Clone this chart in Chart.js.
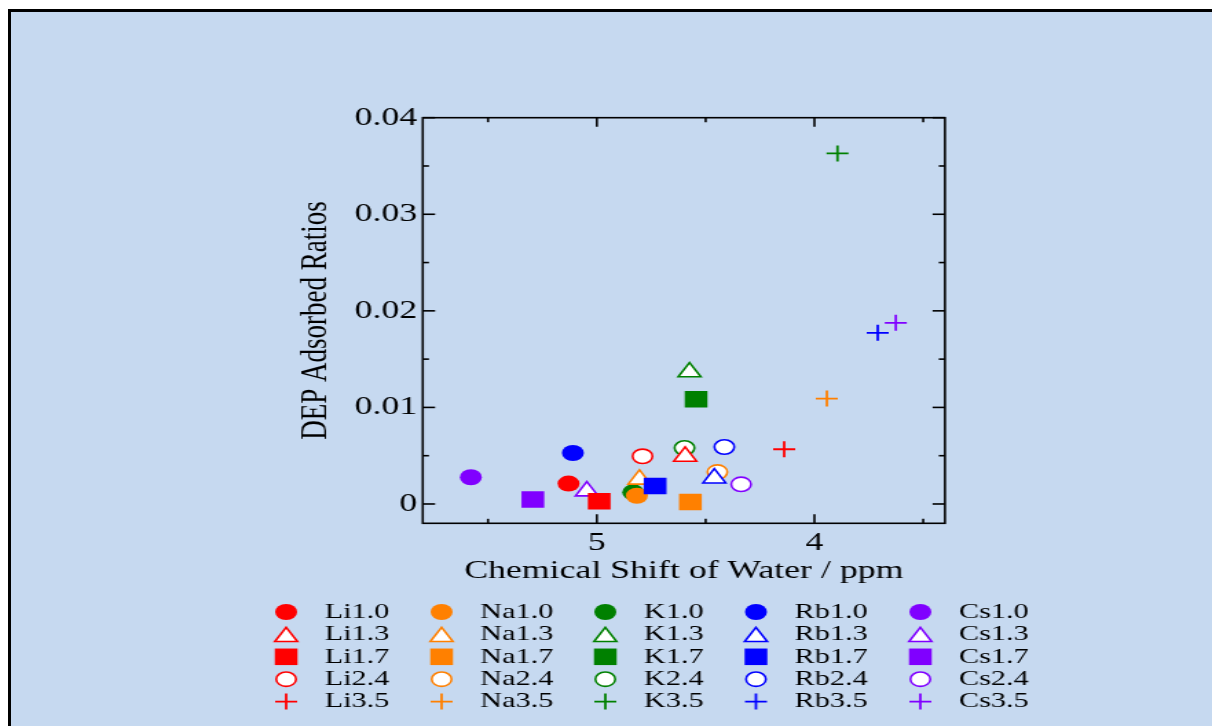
<!DOCTYPE html>
<html lang="en">
  <head>
    <meta charset="UTF-8" />
    <title>DEP Adsorbed Ratios</title>
    <script src="https://cdn.jsdelivr.net/npm/chart.js"></script>
    <style>
      body {
        margin: 0;
        background: #fff;
        overflow: hidden;
      }

      .frame {
        position: absolute;
        left: 8px;
        top: 9px;
        width: 1212px;
        height: 726px;
        background: #c6d9f0;
        border-left: 3px solid #000;
        border-top: 3px solid #000;
      }

      /* the original picture is stretched sideways, so the canvas is too */
      canvas {
        position: absolute;
        left: 0;
        top: 0;
        width: 1212px !important;
        height: 726px !important;
      }
    </style>
  </head>
  <body>
    <div class="frame"></div>
    <canvas id="shiftChart" width="881" height="726"></canvas>

    <script>
      // series: one list per cation, in the order of the concentrations
      const elements = ["Li", "Na", "K", "Rb", "Cs"];
      const concentrations = ["1.0", "1.3", "1.7", "2.4", "3.5"];

      const liShift = [5.13, 4.594, 4.989, 4.79, 4.139];
      const liRatio = [0.00211, 0.00492, 0.00028, 0.00494, 0.00567];
      const naShift = [4.816, 4.804, 4.57, 4.446, 3.943];
      const naRatio = [0.00085, 0.00255, 0.0002, 0.0033, 0.01092];
      const kShift = [4.833, 4.574, 4.544, 4.597, 3.894];
      const kRatio = [0.00121, 0.01366, 0.01085, 0.0058, 0.0363];
      const rbShift = [5.11, 4.46, 4.732, 4.414, 3.709];
      const rbRatio = [0.00528, 0.00267, 0.00187, 0.0059, 0.01772];
      const csShift = [5.579, 5.046, 5.294, 4.337, 3.626];
      const csRatio = [0.00277, 0.00133, 0.00046, 0.00204, 0.01876];

      const xTicks = [5, 4];
      const xTickLabels = ["5", "4"];
      const xMinorTicks = [5.5, 4.5, 3.5];
      const yTicks = [0, 0.01, 0.02, 0.03, 0.04];
      const yTickLabels = ["0", "0.01", "0.02", "0.03", "0.04"];
      const yMinorTicks = [0.005, 0.015, 0.025, 0.035];

      const shifts = [liShift, naShift, kShift, rbShift, csShift];
      const ratios = [liRatio, naRatio, kRatio, rbRatio, csRatio];

      // looks
      const colors = ["#ff0000", "#ff8000", "#008000", "#0000ff", "#8000ff"];
      const drawOrder = [0, 2, 3, 1, 4]; // Li on top, then Rb, Na, K, Cs
      const markers = [
        { pointStyle: "circle", radius: 8, filled: true, borderWidth: 0 },
        { pointStyle: "triangle", radius: 9.5, filled: false, borderWidth: 1.6 },
        { pointStyle: "rect", radius: 11.7, filled: true, borderWidth: 0 },
        { pointStyle: "circle", radius: 7.2, filled: false, borderWidth: 1.6 },
        { pointStyle: "cross", radius: 8, filled: false, borderWidth: 1.8 },
      ];
      const serif = '"Liberation Serif", "Times New Roman", serif';

      const datasets = [];
      elements.forEach((el, e) => {
        concentrations.forEach((c, k) => {
          const m = markers[k];
          datasets.push({
            label: el + c,
            data: [{ x: shifts[e][k], y: ratios[e][k] }],
            order: drawOrder[e],
            showLine: false,
            pointStyle: m.pointStyle,
            pointRadius: m.radius,
            pointHoverRadius: m.radius,
            pointBackgroundColor: m.filled ? colors[e] : "#fff",
            pointBorderColor: colors[e],
            pointBorderWidth: m.borderWidth,
          });
        });
      });

      function line(ctx, x1, y1, x2, y2) {
        ctx.beginPath();
        ctx.moveTo(x1, y1);
        ctx.lineTo(x2, y2);
        ctx.stroke();
      }

      // box with inward ticks on all four sides, plus the legend grid
      const frameTicks = {
        id: "frameTicks",
        beforeDatasetsDraw(chart) {
          const { ctx, chartArea: a } = chart;
          const x = chart.scales.x;
          const y = chart.scales.y;
          ctx.save();
          ctx.strokeStyle = "#000";
          ctx.lineWidth = 1.6;
          ctx.strokeRect(a.left, a.top, a.right - a.left, a.bottom - a.top);
          const xt = (list, len) =>
            list.forEach((v) => {
              const p = x.getPixelForValue(v);
              line(ctx, p, a.bottom, p, a.bottom - len);
              line(ctx, p, a.top, p, a.top + len);
            });
          const yt = (list, len) =>
            list.forEach((v) => {
              const p = y.getPixelForValue(v);
              line(ctx, a.left, p, a.left + len, p);
              line(ctx, a.right, p, a.right - len, p);
            });
          xt(xTicks, 9);
          xt(xMinorTicks, 4.5);
          yt(yTicks, 9);
          yt(yMinorTicks, 4.5);
          ctx.restore();
        },
        afterDraw(chart) {
          const ctx = chart.ctx;
          const colX = [208, 321, 440, 549.5, 669];
          const top = 612;
          const rowGap = 22.4;
          const drawPoint = Chart.helpers && Chart.helpers.drawPoint;
          ctx.save();
          ctx.font = "22px " + serif;
          ctx.textBaseline = "middle";
          elements.forEach((el, e) => {
            concentrations.forEach((c, k) => {
              const m = markers[k];
              const px = colX[e];
              const py = top + k * rowGap;
              ctx.fillStyle = m.filled ? colors[e] : "#fff";
              ctx.strokeStyle = colors[e];
              ctx.lineWidth = m.borderWidth;
              if (drawPoint) {
                drawPoint(
                  ctx,
                  {
                    pointStyle: m.pointStyle,
                    radius: m.radius,
                    rotation: 0,
                    borderWidth: m.borderWidth,
                  },
                  px,
                  m.pointStyle === "triangle" ? py + 2.4 : py
                );
              }
              ctx.fillStyle = "#000";
              ctx.fillText(el + c, px + 28, py);
            });
          });
          ctx.restore();
        },
      };

      new Chart(document.getElementById("shiftChart").getContext("2d"), {
        type: "scatter",
        data: { datasets: datasets },
        options: {
          responsive: false,
          devicePixelRatio: 1,
          animation: false,
          layout: {
            padding: { left: 214, right: 194.1, top: 117.7, bottom: 139.4 },
          },
          plugins: {
            legend: { display: false },
            tooltip: { enabled: false },
          },
          scales: {
            x: {
              type: "linear",
              reverse: true,
              min: 3.4,
              max: 5.8,
              grid: { display: false, drawTicks: false },
              border: { display: false },
              afterBuildTicks: (scale) => {
                scale.ticks = xTicks.map((v) => ({ value: v }));
              },
              afterFit: (scale) => {
                scale.height = 63.3;
              },
              ticks: {
                padding: 4,
                color: "#000",
                font: { family: serif, size: 26 },
                maxRotation: 0,
                callback: (v, i) => xTickLabels[i],
              },
              title: {
                display: true,
                text: "Chemical Shift of Water / ppm",
                color: "#000",
                font: { family: serif, size: 26 },
                padding: 0,
              },
            },
            y: {
              type: "linear",
              min: -0.002,
              max: 0.04,
              grid: { display: false, drawTicks: false },
              border: { display: false },
              afterBuildTicks: (scale) => {
                scale.ticks = yTicks.map((v) => ({ value: v }));
              },
              afterFit: (scale) => {
                scale.width = 93.3;
              },
              ticks: {
                padding: 4,
                color: "#000",
                font: { family: serif, size: 26 },
                callback: (v, i) => yTickLabels[i],
              },
              title: {
                display: true,
                text: "DEP Adsorbed Ratios",
                color: "#000",
                font: { family: serif, size: 27 },
                padding: 0,
              },
            },
          },
        },
        plugins: [frameTicks],
      });
    </script>
  </body>
</html>
